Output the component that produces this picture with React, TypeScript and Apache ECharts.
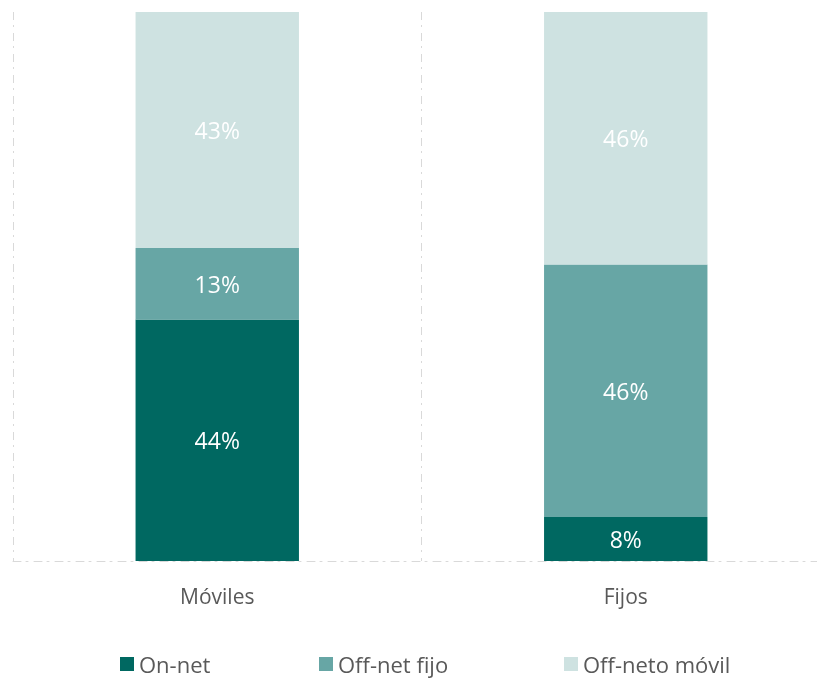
import React, { useEffect, useRef } from "react";
import * as echarts from "echarts";

const categories = ["Móviles", "Fijos"];
const onNet = [44, 8];
const offNetFijo = [13, 46];
const offNetoMovil = [43, 46];
const seriesNames = ["On-net", "Off-net fijo", "Off-neto móvil"];

const FONT = "'Open Sans', Lato, sans-serif";
const dash = { color: "#d9d9d9", width: 1, type: [8, 5, 2, 6] as number[] };
const legendLefts = [120, 319, 564];

export default function App() {
  const ref = useRef<HTMLDivElement>(null);
  useEffect(() => {
    if (!ref.current) return;
    const chart = echarts.init(ref.current, undefined, { renderer: "svg" });
    const label = {
      show: true,
      position: "inside",
      formatter: "{c}%",
      color: "#ffffff",
      fontSize: 23,
      fontFamily: FONT,
    };
    const mk = (name: string, data: number[], color: string) => ({
      name,
      type: "bar",
      stack: "total",
      data,
      barWidth: "40%",
      itemStyle: { color },
      label,
    });
    chart.setOption({
      animation: false,
      textStyle: { fontFamily: FONT },
      grid: { left: 13, right: 0, top: 12, bottom: 119 },
      legend: seriesNames.map((n, i) => ({
        left: legendLefts[i],
        top: 653,
        padding: 0,
        itemWidth: 14,
        itemHeight: 14,
        itemGap: 6,
        icon: "rect",
        textStyle: { fontSize: 22, color: "#595959", fontFamily: FONT, lineHeight: 22 },
        data: [n],
      })),
      xAxis: {
        type: "category",
        data: categories,
        axisLine: { show: true, lineStyle: dash },
        axisTick: { show: false },
        axisLabel: { fontSize: 21, color: "#595959", margin: 24, fontFamily: FONT },
        splitLine: { show: true, lineStyle: dash },
        z: 5,
      },
      yAxis: {
        type: "value",
        min: 0,
        max: 100,
        show: false,
        splitLine: { show: false },
      },
      series: [
        mk(seriesNames[0], onNet, "#006861"),
        mk(seriesNames[1], offNetFijo, "#67a6a5"),
        mk(seriesNames[2], offNetoMovil, "#cee2e1"),
      ],
    });
    return () => chart.dispose();
  }, []);
  return (
    <div
      ref={ref}
      style={{ position: "fixed", left: 0, top: 0, width: 830, height: 680 }}
    />
  );
}
